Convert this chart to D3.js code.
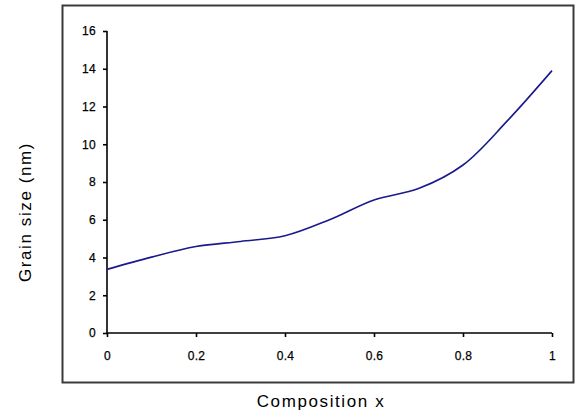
<!DOCTYPE html>
<html>
<head>
<meta charset="utf-8">
<script src="https://cdn.jsdelivr.net/npm/d3@7"></script>
<style>
  html, body { margin: 0; padding: 0; background: #fff; }
  svg { display: block; }
  text { font-family: "Liberation Sans", Arial, sans-serif; fill: #000; }
</style>
</head>
<body>
<svg id="chart" width="576" height="418"></svg>
<script>
// ---- data ----
const compositionX = [0, 0.1, 0.2, 0.3, 0.4, 0.5, 0.6, 0.7, 0.8, 0.9, 1.0];
const grainSize    = [3.37, 4.02, 4.58, 4.85, 5.15, 6.0, 7.05, 7.65, 8.9, 11.25, 13.9];
const xTicks = [0, 0.2, 0.4, 0.6, 0.8, 1];
const yTicks = [0, 2, 4, 6, 8, 10, 12, 14, 16];
const xTitle = "Composition x";
const yTitle = "Grain size (nm)";

const svg = d3.select("#chart");

// outer frame
svg.append("rect")
  .attr("x", 62.5).attr("y", 5.5)
  .attr("width", 511).attr("height", 377)
  .attr("fill", "none").attr("stroke", "#3a3a3a").attr("stroke-width", 2);

const x = d3.scaleLinear().domain([0, 1]).range([107, 552]);
const y = d3.scaleLinear().domain([0, 16]).range([333, 31]);

// axes
const xAxis = d3.axisBottom(x).tickValues(xTicks).tickSize(4).tickPadding(14)
  .tickFormat(d => String(d));
const yAxis = d3.axisLeft(y).tickValues(yTicks).tickSize(4).tickPadding(7)
  .tickFormat(d3.format("d"));

const gx = svg.append("g").attr("transform", `translate(0,${y(0)})`).call(xAxis);
const gy = svg.append("g").attr("transform", `translate(${x(0)},0)`).call(yAxis);

[gx, gy].forEach(g => {
  g.select(".domain").attr("stroke", "#000").attr("stroke-width", 1.6);
  g.selectAll(".tick line").attr("stroke", "#000").attr("stroke-width", 1.6);
  g.selectAll(".tick text")
    .attr("fill", "#000")
    .attr("stroke", "#000")
    .attr("stroke-width", 0.25)
    .style("font-family", '"Liberation Sans", Arial, sans-serif')
    .style("font-size", "12px")
    .style("letter-spacing", "0.3px");
});
gx.select(".domain").attr("d", `M${x(0)},0H${x(1)}`);
gy.select(".domain").attr("d", `M0,${y(16)}V${y(0)}`);

// line
const line = d3.line()
  .x((d, i) => x(compositionX[i]))
  .y(d => y(d))
  .curve(d3.curveCatmullRom.alpha(0.5));

svg.append("path")
  .datum(grainSize)
  .attr("d", line)
  .attr("fill", "none")
  .attr("stroke", "#1a1a8c")
  .attr("stroke-width", 1.6);

// axis titles
svg.append("text")
  .attr("x", 321).attr("y", 407)
  .attr("text-anchor", "middle")
  .style("font-size", "17px")
  .style("letter-spacing", "1.6px")
  .text(xTitle);

svg.append("text")
  .attr("transform", "translate(31,212) rotate(-90)")
  .attr("text-anchor", "middle")
  .style("font-size", "17px")
  .style("letter-spacing", "1.6px")
  .text(yTitle);
</script>
</body>
</html>
